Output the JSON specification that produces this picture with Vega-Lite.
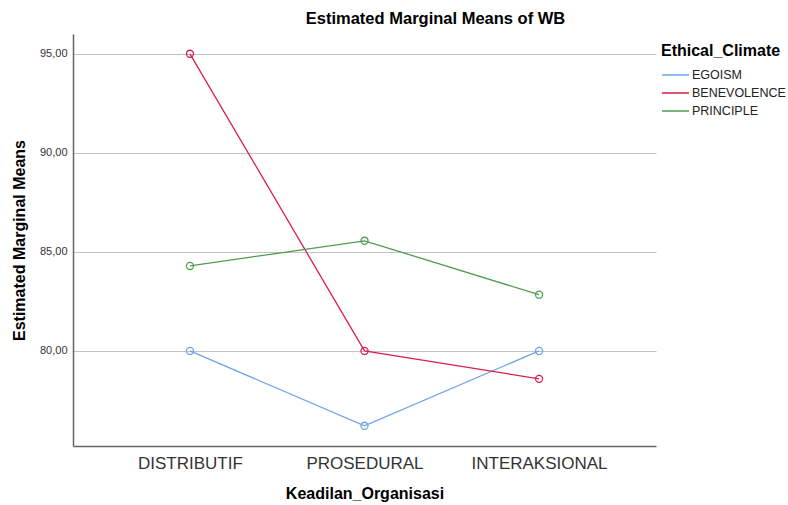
{
  "$schema": "https://vega.github.io/schema/vega-lite/v6.json",
  "autosize": "none",
  "width": 583,
  "height": 412,
  "padding": {"left": 73, "top": 34, "right": 132, "bottom": 59},
  "background": "white",
  "title": {
    "text": "Estimated Marginal Means of WB",
    "font": "Liberation Sans",
    "fontSize": 16.5,
    "fontWeight": "bold",
    "color": "#000000",
    "anchor": "middle",
    "dx": 71,
    "offset": 7
  },
  "config": {
    "view": {"stroke": null},
    "font": "Liberation Sans"
  },
  "data": {
    "values": [
      {"k": "DISTRIBUTIF", "c": "EGOISM", "m": 80.0},
      {"k": "PROSEDURAL", "c": "EGOISM", "m": 76.22},
      {"k": "INTERAKSIONAL", "c": "EGOISM", "m": 80.0},
      {"k": "DISTRIBUTIF", "c": "BENEVOLENCE", "m": 95.0},
      {"k": "PROSEDURAL", "c": "BENEVOLENCE", "m": 80.0},
      {"k": "INTERAKSIONAL", "c": "BENEVOLENCE", "m": 78.59},
      {"k": "DISTRIBUTIF", "c": "PRINCIPLE", "m": 84.29},
      {"k": "PROSEDURAL", "c": "PRINCIPLE", "m": 85.56},
      {"k": "INTERAKSIONAL", "c": "PRINCIPLE", "m": 82.84}
    ]
  },
  "encoding": {
    "x": {
      "field": "k",
      "type": "ordinal",
      "sort": ["DISTRIBUTIF", "PROSEDURAL", "INTERAKSIONAL"],
      "scale": {"type": "point", "padding": 0.67},
      "axis": {
        "title": "Keadilan_Organisasi",
        "titleFontSize": 16,
        "titleFontWeight": "bold",
        "titleColor": "#000000",
        "titlePadding": 14,
        "labelAngle": 0,
        "labelFontSize": 17,
        "labelColor": "#333333",
        "labelPadding": 9,
        "ticks": false,
        "grid": false,
        "domainColor": "#666666",
        "domainWidth": 1.5
      }
    },
    "y": {
      "field": "m",
      "type": "quantitative",
      "scale": {"domain": [75.2, 96.0], "nice": false, "zero": false},
      "axis": {
        "title": "Estimated Marginal Means",
        "titleFontSize": 16,
        "titleFontWeight": "bold",
        "titleColor": "#000000",
        "titlePadding": 12,
        "values": [80, 85, 90, 95],
        "labelExpr": "replace(format(datum.value, '.2f'), '.', ',')",
        "labelFontSize": 11,
        "labelColor": "#333333",
        "labelPadding": 6,
        "ticks": false,
        "grid": true,
        "gridColor": "#c4c4c4",
        "gridWidth": 1.2,
        "domainColor": "#666666",
        "domainWidth": 1.5
      }
    },
    "color": {
      "field": "c",
      "type": "nominal",
      "sort": ["EGOISM", "BENEVOLENCE", "PRINCIPLE"],
      "scale": {
        "domain": ["EGOISM", "BENEVOLENCE", "PRINCIPLE"],
        "range": ["#6fa3e8", "#d91e4a", "#4f9c4f"]
      },
      "legend": {
        "title": "Ethical_Climate",
        "titleFontSize": 16,
        "titleFontWeight": "bold",
        "titleColor": "#000000",
        "titlePadding": 8,
        "labelFontSize": 12.5,
        "labelColor": "#222222",
        "labelOffset": 2,
        "symbolType": "stroke",
        "symbolSize": 729,
        "symbolStrokeWidth": 1.5,
        "clipHeight": 16,
        "rowPadding": 2,
        "orient": "none",
        "legendX": 588,
        "legendY": 9
      }
    }
  },
  "layer": [
    {"mark": {"type": "line", "strokeWidth": 1.3}},
    {"mark": {"type": "point", "filled": false, "size": 50, "strokeWidth": 1.3, "opacity": 1}}
  ]
}
